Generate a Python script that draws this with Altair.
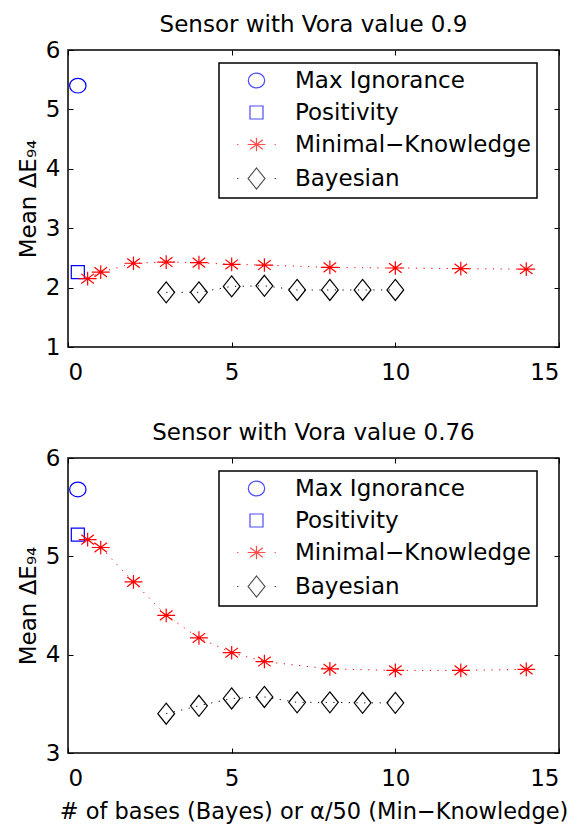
import altair as alt
import pandas as pd

FONT = "DejaVu Sans"

series_names = ["Max Ignorance", "Positivity", "Minimal−Knowledge", "Bayesian"]
series_colors = ["#0000ff", "#0000ff", "#ff0000", "#000000"]

x_ticks = [0, 5, 10, 15]

# x positions
maxign_x = [0.3]
pos_x = [0.3]
mk_x = [0.6, 1, 2, 3, 4, 5, 6, 8, 10, 12, 14]
bayes_x = [3, 4, 5, 6, 7, 8, 9, 10]

# top panel: Vora value 0.9
top_maxign_y = [5.40]
top_pos_y = [2.26]
top_mk_y = [2.15, 2.26, 2.41, 2.43, 2.42, 2.39, 2.38, 2.34, 2.33, 2.32, 2.31]
top_bayes_y = [1.92, 1.92, 2.02, 2.03, 1.96, 1.96, 1.96, 1.96]
top_y_ticks = [1, 2, 3, 4, 5, 6]

# bottom panel: Vora value 0.76
bot_maxign_y = [5.68]
bot_pos_y = [5.22]
bot_mk_y = [5.17, 5.09, 4.74, 4.40, 4.17, 4.02, 3.93, 3.855, 3.84, 3.84, 3.85]
bot_bayes_y = [3.40, 3.48, 3.555, 3.57, 3.515, 3.515, 3.51, 3.51]
bot_y_ticks = [3, 4, 5, 6]

# marker shapes (unit box -1..1)
marker_paths = [
    "M0.78,0A0.78,0.7,0,1,1,-0.78,0A0.78,0.7,0,1,1,0.78,0Z",
    "M-0.62,-0.62L0.62,-0.62L0.62,0.62L-0.62,0.62Z",
    "M-0.85,0L0.85,0M0,-0.65L0,0.65M-0.6,-0.46L0.6,0.46M-0.6,0.46L0.6,-0.46",
    "M0,-1L0.8,0L0,1L-0.8,0Z",
]
dots = "M-1.85,0L-1.72,0M1.72,0L1.85,0"
legend_paths = [marker_paths[0], marker_paths[1], marker_paths[2] + dots, marker_paths[3] + dots]


def make_df(mi, po, mk, ba):
    rows = []
    for xv, yv in zip(maxign_x, mi):
        rows.append({"x": xv, "y": yv, "series": series_names[0]})
    for xv, yv in zip(pos_x, po):
        rows.append({"x": xv, "y": yv, "series": series_names[1]})
    for xv, yv in zip(mk_x, mk):
        rows.append({"x": xv, "y": yv, "series": series_names[2]})
    for xv, yv in zip(bayes_x, ba):
        rows.append({"x": xv, "y": yv, "series": series_names[3]})
    return pd.DataFrame(rows)


def panel(df, title, ydomain, yticks, xtitle, h):
    xs = alt.Scale(domain=[0, 15], nice=False, zero=False)
    ys = alt.Scale(domain=ydomain, nice=False, zero=False)
    cscale = alt.Scale(domain=series_names, range=series_colors)
    base = alt.Chart(df)

    xaxis_kw = dict(orient="bottom", values=x_ticks, offset=-5, tickSize=5, domain=False,
                    grid=False, labelPadding=14, labelFontSize=23)
    if xtitle:
        xaxis_kw.update(title=xtitle, titlePadding=10, titleFontSize=22.5)
    else:
        xaxis_kw.update(title=None)

    lines = base.transform_filter(
        alt.FieldOneOfPredicate(field="series", oneOf=[series_names[2], series_names[3]])
    ).mark_line(strokeWidth=1, strokeDash=[1.2, 6.5]).encode(
        x=alt.X("x:Q", scale=xs, axis=alt.Axis(**xaxis_kw)),
        y=alt.Y("y:Q", scale=ys, axis=alt.Axis(orient="left", values=yticks, offset=-5, tickSize=5,
                                              domain=False, grid=False, labelPadding=8,
                                              title="Mean ΔE₉₄", titlePadding=5)),
        color=alt.Color("series:N", scale=cscale, legend=None),
        detail="series:N",
        order="x:Q",
    )

    pts = base.mark_point(filled=False, size=441, strokeWidth=1.2, opacity=1).encode(
        x=alt.X("x:Q", scale=xs, axis=alt.Axis(orient="top", values=x_ticks, offset=-5, tickSize=5,
                                              labels=False, domain=False, grid=False, title=None,
                                              minExtent=0, maxExtent=0)),
        y=alt.Y("y:Q", scale=ys, axis=alt.Axis(orient="right", values=yticks, offset=-5, tickSize=5,
                                              labels=False, domain=False, grid=False, title=None,
                                              minExtent=0, maxExtent=0)),
        color=alt.Color("series:N", scale=cscale, legend=None),
        shape=alt.Shape("series:N", scale=alt.Scale(domain=series_names, range=marker_paths), legend=None),
    )

    leg_kw = dict(title=None, orient="none", legendX=151, legendY=13, strokeColor="black",
                  fillColor="white", padding=6, symbolSize=441, symbolOffset=20, labelOffset=27,
                  rowPadding=8, labelFont=FONT, labelFontSize=23, labelColor="black", labelLimit=400,
                  symbolStrokeWidth=1.2)
    leg = base.transform_filter("false").mark_point(filled=False, size=441, strokeWidth=1.2).encode(
        color=alt.Color("series:N", scale=cscale, legend=alt.Legend(**leg_kw)),
        shape=alt.Shape("series:N", scale=alt.Scale(domain=series_names, range=legend_paths),
                        legend=alt.Legend(**leg_kw)),
    )

    return alt.layer(lines, pts, leg).resolve_scale(
        x="independent", y="independent", color="independent", shape="independent"
    ).resolve_axis(x="independent", y="independent").properties(
        width=491, height=h,
        title=alt.TitleParams(title, fontSize=23, fontWeight="normal", font=FONT, offset=2,
                              anchor="middle", color="black"),
    )


top = panel(make_df(top_maxign_y, top_pos_y, top_mk_y, top_bayes_y),
            "Sensor with Vora value 0.9", [1, 6], top_y_ticks, None, 297)
bot = panel(make_df(bot_maxign_y, bot_pos_y, bot_mk_y, bot_bayes_y),
            "Sensor with Vora value 0.76", [3, 6], bot_y_ticks,
            "# of bases (Bayes) or α/50 (Min−Knowledge)", 295)

chart = alt.vconcat(top, bot, spacing=36).resolve_scale(
    color="independent", shape="independent"
).resolve_legend(color="independent", shape="independent").properties(
    padding={"left": 8, "top": 5, "right": 0, "bottom": 0}
).configure_view(stroke="black", strokeWidth=1.5).configure_axis(
    labelFont=FONT, titleFont=FONT, labelFontSize=23, titleFontSize=23, labelColor="black",
    titleColor="black", tickColor="black", titleFontWeight="normal", tickWidth=1
).configure_legend(strokeWidth=1.5).configure_title(
    font=FONT, fontSize=23, fontWeight="normal", color="black")

chart.save("out.html", embed_options={"renderer": "svg", "actions": False})
